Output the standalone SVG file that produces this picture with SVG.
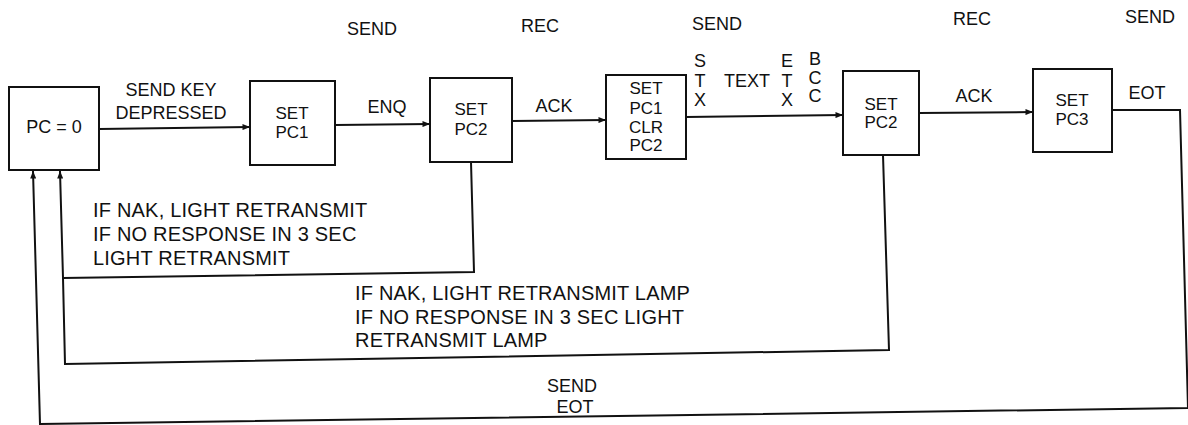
<svg xmlns="http://www.w3.org/2000/svg" width="1188" height="425" viewBox="0 0 1188 425">
<style>
text{font-family:"Liberation Sans",Arial,sans-serif;font-size:18px;fill:#111}
.c{text-anchor:middle}
.b{font-size:17px}
.n{font-size:20px;letter-spacing:0.2px}
.box{fill:#fff;stroke:#111;stroke-width:2}
.ln{fill:none;stroke:#111;stroke-width:2}
</style>
<defs>
<marker id="ah" viewBox="0 0 10 8" refX="10" refY="4" markerWidth="8" markerHeight="6" markerUnits="userSpaceOnUse" orient="auto">
<path d="M0,0 L10,4 L0,8 Z" fill="#111"/>
</marker>
</defs>
<rect width="1188" height="425" fill="#fff"/>
<g id="connectors">
<line class="ln" x1="99" y1="129" x2="250" y2="127" marker-end="url(#ah)"/>
<line class="ln" x1="335" y1="125" x2="430" y2="124" marker-end="url(#ah)"/>
<line class="ln" x1="512" y1="121" x2="606" y2="120" marker-end="url(#ah)"/>
<line class="ln" x1="686" y1="117" x2="843" y2="115" marker-end="url(#ah)"/>
<line class="ln" x1="919" y1="113" x2="1033" y2="112" marker-end="url(#ah)"/>
<path class="ln" d="M1112,110 L1180,110 L1188,408 L40,424 L33,171" marker-end="url(#ah)"/>
<path class="ln" d="M471,162 L474,272 L63,278 L60,171" marker-end="url(#ah)"/>
<path class="ln" d="M883,155 L889,350 L65,364 L63,278"/>
</g>
<g id="labels">
<text class="c" x="372" y="35">SEND</text>
<text class="c" x="540" y="32">REC</text>
<text class="c" x="717" y="30">SEND</text>
<text class="c" x="972" y="25">REC</text>
<text class="c" x="1150" y="23">SEND</text>
<text class="c" x="171" y="96">SEND KEY</text>
<text class="c" x="171" y="119">DEPRESSED</text>
<text class="c" x="387" y="113">ENQ</text>
<text class="c" x="554" y="112">ACK</text>
<text class="c" x="700" y="67">S</text>
<text class="c" x="700" y="87">T</text>
<text class="c" x="700" y="106">X</text>
<text class="c" x="747" y="87">TEXT</text>
<text class="c" x="787" y="67">E</text>
<text class="c" x="787" y="87">T</text>
<text class="c" x="787" y="106">X</text>
<text class="c" x="815" y="65">B</text>
<text class="c" x="815" y="84">C</text>
<text class="c" x="815" y="102">C</text>
<text class="c" x="974" y="102">ACK</text>
<text class="c" x="1147" y="99">EOT</text>
<text class="n" x="93" y="217">IF NAK, LIGHT RETRANSMIT</text>
<text class="n" x="93" y="241">IF NO RESPONSE IN 3 SEC</text>
<text class="n" x="93" y="265">LIGHT RETRANSMIT</text>
<text class="n" x="355" y="300">IF NAK, LIGHT RETRANSMIT LAMP</text>
<text class="n" x="355" y="324">IF NO RESPONSE IN 3 SEC LIGHT</text>
<text class="n" x="355" y="347">RETRANSMIT LAMP</text>
<text class="c" x="572" y="392">SEND</text>
<text class="c" x="575" y="413">EOT</text>
</g>
<g id="pc0">
<rect class="box" x="9" y="87" width="90" height="83"/>
<text class="c" x="54" y="133">PC = 0</text>
</g>
<g id="setpc1">
<rect class="box" x="250" y="81" width="85" height="84"/>
<text class="c b" x="292" y="119">SET</text>
<text class="c b" x="292" y="138">PC1</text>
</g>
<g id="setpc2a">
<rect class="box" x="430" y="78" width="82" height="84"/>
<text class="c b" x="471" y="115">SET</text>
<text class="c b" x="471" y="135">PC2</text>
</g>
<g id="setpc1clr">
<rect class="box" x="606" y="75" width="80" height="84"/>
<text class="c b" x="646" y="94">SET</text>
<text class="c b" x="646" y="114">PC1</text>
<text class="c b" x="646" y="133">CLR</text>
<text class="c b" x="646" y="151">PC2</text>
</g>
<g id="setpc2b">
<rect class="box" x="843" y="71" width="76" height="84"/>
<text class="c b" x="881" y="110">SET</text>
<text class="c b" x="881" y="128">PC2</text>
</g>
<g id="setpc3">
<rect class="box" x="1033" y="69" width="79" height="83"/>
<text class="c b" x="1072" y="106">SET</text>
<text class="c b" x="1072" y="125">PC3</text>
</g>
</svg>
